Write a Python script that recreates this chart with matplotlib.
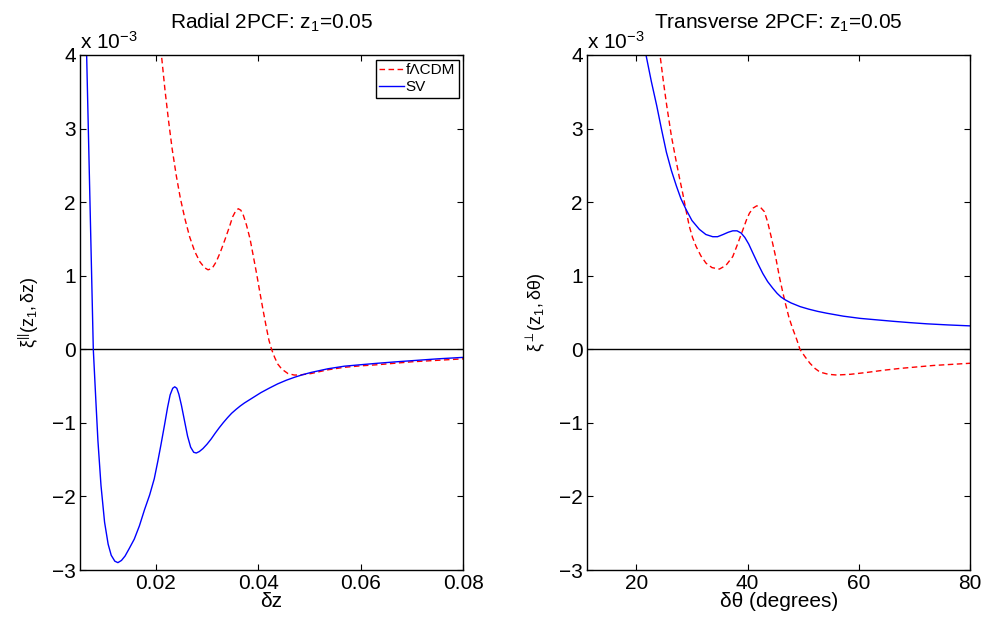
"""Radial and transverse 2PCF at z1 = 0.05: fLCDM vs SV"""
import matplotlib
matplotlib.use("Agg")
import matplotlib.pyplot as plt

plt.rcParams['font.family'] = ['Liberation Sans', 'DejaVu Sans']
plt.rcParams['mathtext.fontset'] = 'custom'
plt.rcParams['mathtext.rm'] = 'Liberation Sans'
plt.rcParams['mathtext.it'] = 'Liberation Sans:italic'
plt.rcParams['mathtext.bf'] = 'Liberation Sans:bold'

# radial 2PCF (values in units of 1e-3)
dz_lcdm = [0.0205, 0.0211, 0.0218, 0.0225, 0.0232, 0.0240, 0.0248, 0.0257,
           0.0266, 0.0276, 0.0286, 0.0295, 0.0302, 0.0310, 0.0318, 0.0326,
           0.0335, 0.0344, 0.0350, 0.0356, 0.0361, 0.0366, 0.0371, 0.0377,
           0.0384, 0.0390, 0.0397, 0.0403, 0.0410, 0.0416, 0.0421, 0.0426,
           0.0432, 0.0438, 0.0446, 0.0458, 0.0470, 0.0480, 0.0503, 0.0535,
           0.0568, 0.0600, 0.0633, 0.0700, 0.0750, 0.0800]
xi_rad_lcdm = [4.45, 4.0, 3.52, 3.10, 2.72, 2.36, 2.05, 1.77,
               1.53, 1.33, 1.19, 1.11, 1.08, 1.10, 1.19, 1.32,
               1.49, 1.67, 1.80, 1.88, 1.91, 1.89, 1.82, 1.69,
               1.50, 1.28, 1.02, 0.78, 0.51, 0.29, 0.12, 0.0,
               -0.11, -0.20, -0.27, -0.33, -0.35, -0.35, -0.33, -0.28,
               -0.245, -0.225, -0.21, -0.17, -0.15, -0.13]

dz_sv = [0.0063, 0.0065, 0.0072, 0.0078, 0.0083, 0.0087, 0.0093, 0.0100,
         0.0107, 0.0113, 0.0120, 0.0126, 0.0133, 0.0140, 0.0148, 0.0158,
         0.0168, 0.0178, 0.0188, 0.0197, 0.0204, 0.0210, 0.0217, 0.0223,
         0.0228, 0.0233, 0.0237, 0.0241, 0.0245, 0.0250, 0.0256, 0.0262,
         0.0268, 0.0274, 0.0279, 0.0285, 0.0292, 0.0300, 0.0308, 0.0316,
         0.0324, 0.0332, 0.0340, 0.0348, 0.0357, 0.0365, 0.0373, 0.0389,
         0.0405, 0.0421, 0.0438, 0.0455, 0.0471, 0.0487, 0.0503, 0.0536,
         0.0568, 0.0600, 0.0633, 0.0670, 0.0700, 0.0750, 0.0800]
xi_rad_sv = [4.6, 4.0, 1.85, 0.0, -0.70, -1.24, -1.85, -2.35,
             -2.65, -2.80, -2.88, -2.90, -2.87, -2.81, -2.71, -2.58,
             -2.40, -2.18, -1.98, -1.76, -1.52, -1.30, -1.03, -0.79,
             -0.62, -0.53, -0.51, -0.53, -0.61, -0.76, -0.97, -1.18,
             -1.33, -1.40, -1.41, -1.39, -1.35, -1.29, -1.22, -1.14,
             -1.065, -0.995, -0.93, -0.87, -0.815, -0.77, -0.73, -0.66,
             -0.59, -0.53, -0.47, -0.42, -0.38, -0.345, -0.315, -0.265,
             -0.23, -0.21, -0.19, -0.17, -0.155, -0.13, -0.11]

# transverse 2PCF (values in units of 1e-3)
th_lcdm = [23.9, 24.26, 24.9, 25.47, 26.3, 27.1, 27.7, 28.34, 28.9, 29.53,
           30.1, 30.73, 31.6, 32.53, 33.6, 34.93, 36.1, 37.33, 38.2, 39.13,
           39.8, 40.33, 41.0, 41.65, 42.3, 43.02, 43.6, 44.2, 45.0, 45.7,
           46.3, 46.8, 47.4, 48.0, 48.84, 49.4, 50.3, 51.2, 52.1, 53.0,
           54.5, 56.0, 58.5, 61.4, 64.4, 67.4, 70.4, 73.4, 76.7, 80.0]
xi_tr_lcdm = [4.45, 4.0, 3.62, 3.31, 2.90, 2.58, 2.35, 2.12, 1.90, 1.67,
              1.52, 1.40, 1.27, 1.17, 1.11, 1.09, 1.14, 1.26, 1.43, 1.62,
              1.76, 1.85, 1.92, 1.95, 1.93, 1.87, 1.73, 1.54, 1.27, 0.99,
              0.78, 0.62, 0.44, 0.30, 0.13, 0.0, -0.10, -0.19, -0.26, -0.31,
              -0.34, -0.35, -0.34, -0.315, -0.285, -0.26, -0.24, -0.22,
              -0.205, -0.19]

th_sv = [21.3, 21.74, 22.7, 23.67, 24.5, 25.4, 26.3, 27.2, 28.0, 28.94,
         30.0, 31.33, 32.5, 33.73, 34.6, 35.6, 36.5, 37.33, 38.1, 38.83,
         39.5, 40.2, 40.93, 41.8, 42.73, 43.6, 44.52, 45.3, 46.0, 46.8,
         47.8, 49.43, 51.0, 52.6, 54.23, 57.2, 60.22, 63.2, 66.2, 69.2,
         72.2, 76.0, 80.0]
xi_tr_sv = [4.4, 4.0, 3.64, 3.31, 3.0, 2.68, 2.43, 2.22, 2.05, 1.90,
            1.75, 1.63, 1.56, 1.53, 1.53, 1.56, 1.59, 1.61, 1.61, 1.58,
            1.52, 1.43, 1.31, 1.17, 1.03, 0.92, 0.83, 0.76, 0.71, 0.67,
            0.63, 0.58, 0.545, 0.515, 0.49, 0.45, 0.42, 0.40, 0.38, 0.362,
            0.346, 0.331, 0.318]

yticks = [-3, -2, -1, 0, 1, 2, 3, 4]

fig = plt.figure(figsize=(9.85, 6.22), dpi=100)
ax1 = fig.add_axes([0.0812, 0.0836, 0.389, 0.828])
ax2 = fig.add_axes([0.596, 0.0836, 0.389, 0.828])


def style_axes(ax):
    """MATLAB-like box axes with inward ticks."""
    ax.set_ylim(-3, 4)
    ax.set_yticks(yticks)
    ax.axhline(0, color='k', lw=1.0, zorder=1)
    ax.tick_params(direction='in', top=True, right=True, length=4,
                   width=0.8, labelsize=15, pad=3)
    for sp in ax.spines.values():
        sp.set_linewidth(1.0)
    ax.text(0, 1.004, r'x 10$^{-3}$', transform=ax.transAxes,
            ha='left', va='bottom', fontsize=15)


ax1.plot(dz_lcdm, xi_rad_lcdm, color='r', lw=1.0, dashes=(4, 2.5),
         label=u'f\u039bCDM')
ax1.plot(dz_sv, xi_rad_sv, color='b', lw=1.0, label='SV')
ax1.set_xlim(0.0052, 0.08)
ax1.set_xticks([0.02, 0.04, 0.06, 0.08])
ax1.set_xticklabels(['0.02', '0.04', '0.06', '0.08'])
style_axes(ax1)
ax1.set_title(r'Radial 2PCF: z$_1$=0.05', fontsize=15, pad=19)
ax1.set_xlabel(u'\u03b4z', fontsize=15, labelpad=-1)
ax1.set_ylabel(r'$\mathrm{\xi^{||}(z_1,\delta z)}$', fontsize=13, labelpad=8)
leg = ax1.legend(loc='upper right', fontsize=11, fancybox=False,
                 edgecolor='k', framealpha=1, handlelength=1.6,
                 handletextpad=0.1, borderaxespad=0.3, borderpad=0.25,
                 labelspacing=0.2)
leg.get_frame().set_linewidth(1.0)

ax2.plot(th_lcdm, xi_tr_lcdm, color='r', lw=1.0, dashes=(4, 2.5))
ax2.plot(th_sv, xi_tr_sv, color='b', lw=1.0)
ax2.set_xlim(11.15, 80)
ax2.set_xticks([20, 40, 60, 80])
style_axes(ax2)
ax2.set_title(r'Transverse 2PCF: z$_1$=0.05', fontsize=15, pad=19)
ax2.set_xlabel(u'\u03b4\u03b8 (degrees)', fontsize=15, labelpad=-1)
ax2.set_ylabel(r'$\mathrm{\xi^{\perp}(z_1,\delta\theta)}$', fontsize=13,
               labelpad=8)

fig.savefig('out.png', dpi=100)
